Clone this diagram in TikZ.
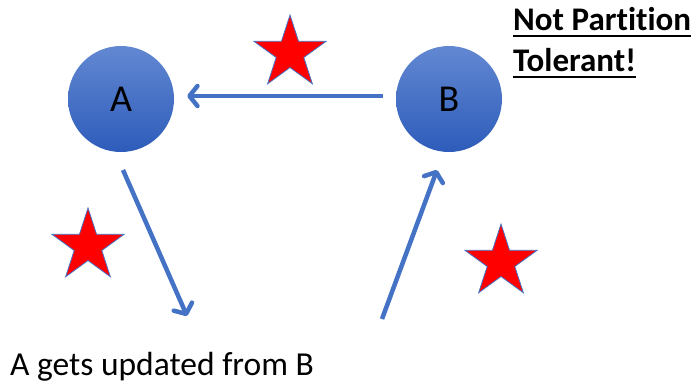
\documentclass[tikz,border=0pt]{standalone}
\usepackage{fontspec}
\setmainfont[Ligatures=CommonOff]{Carlito}
\usetikzlibrary{shapes.geometric, arrows.meta, positioning}
\definecolor{pptblue}{RGB}{68,114,196}
\tikzset{x=1pt, y=-1pt, % work in pixels, y going down
every circle node/.style={ % the two servers
circle, minimum size=106pt, inner sep=0pt,
top color={rgb,255:red,98;green,136;blue,210},
bottom color={rgb,255:red,46;green,92;blue,186},
font=\fontsize{38}{44}\selectfont},
redstar/.style={ % failure markers
star, star points=5, star point ratio=2.618, minimum size=76pt,
inner sep=0pt, fill=red, draw=pptblue, line width=0.8pt},
flow/.style={ % thick open-headed arrows
draw=pptblue, line width=4.5pt,
-{Straight Barb[length=8pt,width=20pt,line cap=round,line join=round]}},
label text/.style={inner sep=0pt, anchor=base west,
font=\fontsize{33.5}{40}\selectfont}}

\begin{document}
\begin{tikzpicture}

    \useasboundingbox (0,0) rectangle (696,384);

    \node[circle] (A) at (121,99) {A};
    \node[circle] (B) at (449,99) {B};

    \node[redstar] (s1) at (290,53) {};
    \node[redstar] (s2) at (88,246) {};
    \node[redstar] (s3) at (501,262) {};

    \coordinate (a1) at (123,170);
    \coordinate (a2) at (187,316);
    \coordinate (b1) at (382,319);
    \coordinate (b2) at (437,170);

    \draw[flow, shorten <=13pt, shorten >=13pt]
        ([yshift=3pt]B.west) -- ([yshift=3pt]A.east);
    \draw[flow] (a1) -- (a2);
    \draw[flow] (b1) -- (b2);

    \node[label text] (note) at (10,375) {A gets updated from B};

    \node[label text, font=\fontsize{33}{40}\selectfont\bfseries] (t1) at (513,30) {Not Partition};
    \node[label text, font=\fontsize{33}{40}\selectfont\bfseries] (t2) at (513,71) {Tolerant!};
    \draw[line width=2.5pt] ([yshift=-6pt]t1.base west) -- ([yshift=-6pt]t1.base east);
    \draw[line width=2.5pt] ([yshift=-6pt]t2.base west) -- ([yshift=-6pt]t2.base east);

\end{tikzpicture}
\end{document}
